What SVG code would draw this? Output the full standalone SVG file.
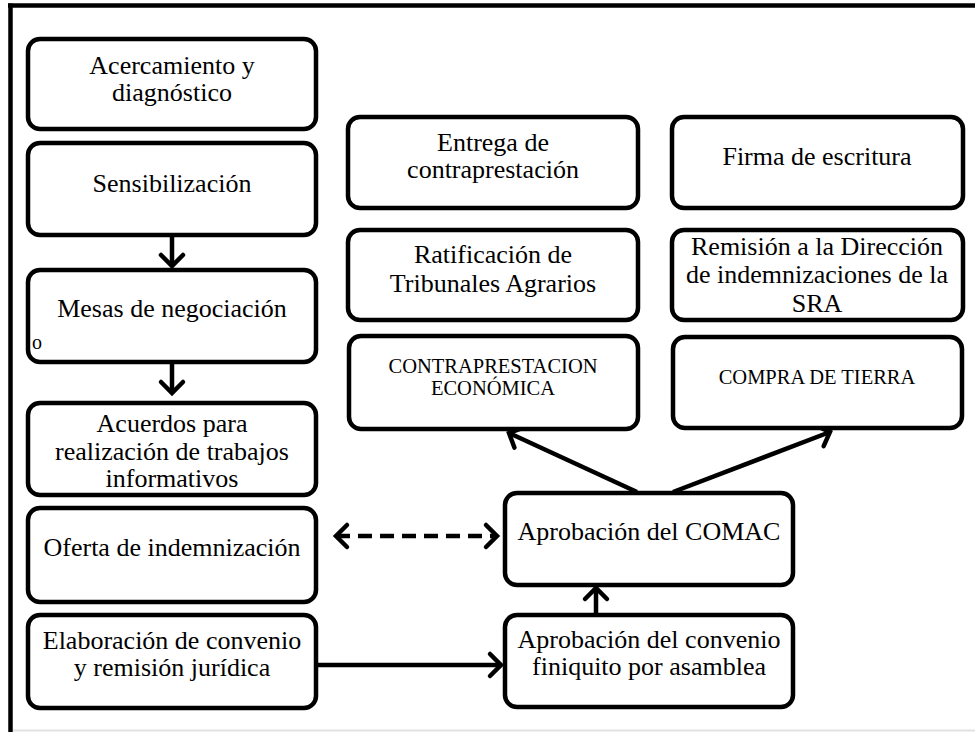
<svg xmlns="http://www.w3.org/2000/svg" width="975" height="732" viewBox="0 0 975 732">
<style>
.box{fill:#fff;stroke:#000;stroke-width:4.5}
.t{font-family:'Liberation Serif','DejaVu Serif',serif;font-size:26px;fill:#000;text-anchor:middle}
.s{font-size:20.5px}
.c{fill:none;stroke:#000;stroke-width:4.5}
</style>
<defs>
<marker id="chev" viewBox="-16 -16 20 32" refX="0" refY="0" markerWidth="20" markerHeight="32" markerUnits="userSpaceOnUse" orient="auto-start-reverse">
<path d="M-11,-11 L0,0 L-11,11" fill="none" stroke="#000" stroke-width="4.5" stroke-linecap="round"/>
</marker>
</defs>
<rect width="975" height="732" fill="#fff"/>
<g id="frame">
<line x1="8" y1="5.5" x2="975" y2="5.5" stroke="#000" stroke-width="4.5"/>
<line x1="10.5" y1="3.5" x2="10.5" y2="732" stroke="#000" stroke-width="4.5"/>
<line x1="13" y1="730.5" x2="975" y2="730.5" stroke="#e2e2e2" stroke-width="2"/>
</g>
<g id="connectors">
<line class="c" x1="172" y1="235" x2="172" y2="266" marker-end="url(#chev)"/>
<line class="c" x1="172" y1="362" x2="172" y2="393" marker-end="url(#chev)"/>
<line class="c" x1="336" y1="536" x2="497" y2="536" stroke-dasharray="14,8" marker-start="url(#chev)" marker-end="url(#chev)"/>
<line class="c" x1="316" y1="665" x2="501" y2="665" marker-end="url(#chev)"/>
<line class="c" x1="596" y1="615" x2="596" y2="588" marker-end="url(#chev)"/>
<line class="c" x1="637" y1="492" x2="509" y2="433" marker-end="url(#chev)"/>
<line class="c" x1="673" y1="492" x2="830" y2="432" marker-end="url(#chev)"/>
</g>
<g id="n1"><rect class="box" x="28" y="39" width="288" height="90" rx="12"/>
<text class="t" x="172" y="74">Acercamiento y</text><text class="t" x="172" y="101">diagnóstico</text></g>
<g id="n2"><rect class="box" x="28" y="143" width="288" height="92" rx="12"/>
<text class="t" x="172" y="192">Sensibilización</text></g>
<g id="n3"><rect class="box" x="28" y="270" width="288" height="92" rx="12"/>
<text class="t" x="172" y="317">Mesas de negociación</text>
<text class="t" x="37" y="349" style="font-size:20px">o</text></g>
<g id="n4"><rect class="box" x="28" y="403" width="288" height="92" rx="12"/>
<text class="t" x="172" y="432">Acuerdos para</text><text class="t" x="172" y="460">realización de trabajos</text><text class="t" x="172" y="487">informativos</text></g>
<g id="n5"><rect class="box" x="28" y="508" width="288" height="94" rx="12"/>
<text class="t" x="172" y="556">Oferta de indemnización</text></g>
<g id="n6"><rect class="box" x="28" y="615" width="288" height="93" rx="12"/>
<text class="t" x="172" y="649">Elaboración de convenio</text><text class="t" x="172" y="676">y remisión jurídica</text></g>
<g id="n7"><rect class="box" x="348" y="117" width="290" height="91" rx="12"/>
<text class="t" x="493" y="151">Entrega de</text><text class="t" x="493" y="178">contraprestación</text></g>
<g id="n8"><rect class="box" x="348" y="230" width="290" height="90" rx="12"/>
<text class="t" x="493" y="263">Ratificación de</text><text class="t" x="493" y="292">Tribunales Agrarios</text></g>
<g id="n9"><rect class="box" x="349" y="336" width="289" height="93" rx="12"/>
<text class="t s" x="493" y="373">CONTRAPRESTACION</text><text class="t s" x="493" y="395">ECONÓMICA</text></g>
<g id="n10"><rect class="box" x="672" y="117" width="291" height="91" rx="12"/>
<text class="t" x="817" y="165">Firma de escritura</text></g>
<g id="n11"><rect class="box" x="672" y="230" width="291" height="90" rx="12"/>
<text class="t" x="817" y="255">Remisión a la Dirección</text><text class="t" x="817" y="283">de indemnizaciones de la</text><text class="t" x="817" y="312">SRA</text></g>
<g id="n12"><rect class="box" x="673" y="337" width="289" height="91" rx="12"/>
<text class="t s" x="817" y="384">COMPRA DE TIERRA</text></g>
<g id="n13"><rect class="box" x="505" y="493" width="288" height="92" rx="12"/>
<text class="t" x="649" y="540">Aprobación del COMAC</text></g>
<g id="n14"><rect class="box" x="505" y="615" width="288" height="92" rx="12"/>
<text class="t" x="649" y="648">Aprobación del convenio</text><text class="t" x="649" y="675">finiquito por asamblea</text></g>
</svg>
